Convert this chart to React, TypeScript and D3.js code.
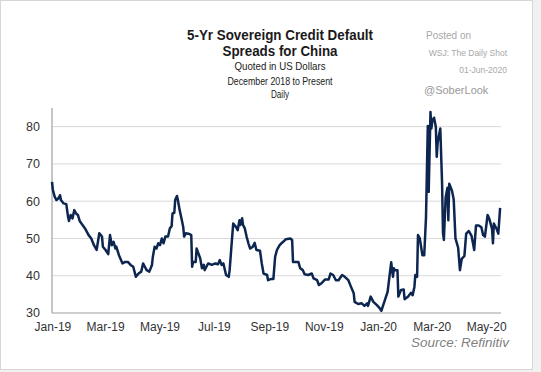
import React from "react";
import { scaleLinear, scaleTime, line, timeParse } from "d3";

const width = 541;
const height = 372;

const margin = { top: 108, right: 40, bottom: 59, left: 52 };
const innerWidth = width - margin.left - margin.right;
const innerHeight = height - margin.top - margin.bottom;

// daily-ish readings of the CDS spread (USD)
const dates = [
  "2018-12-31", "2019-01-01", "2019-01-02", "2019-01-03", "2019-01-05", "2019-01-07", "2019-01-09", "2019-01-10",
  "2019-01-13", "2019-01-16", "2019-01-18", "2019-01-19", "2019-01-21", "2019-01-23", "2019-01-25", "2019-01-27",
  "2019-01-29", "2019-01-31", "2019-02-02", "2019-02-06", "2019-02-10", "2019-02-13", "2019-02-16", "2019-02-19",
  "2019-02-22", "2019-02-25", "2019-02-26", "2019-03-01", "2019-03-04", "2019-03-06", "2019-03-08", "2019-03-10",
  "2019-03-12", "2019-03-13", "2019-03-16", "2019-03-20", "2019-03-23", "2019-03-26", "2019-03-29", "2019-04-01",
  "2019-04-04", "2019-04-07", "2019-04-10", "2019-04-12", "2019-04-14", "2019-04-16", "2019-04-19", "2019-04-22",
  "2019-04-23", "2019-04-25", "2019-04-27", "2019-04-29", "2019-05-01", "2019-05-03", "2019-05-05", "2019-05-07",
  "2019-05-10", "2019-05-12", "2019-05-14", "2019-05-15", "2019-05-17", "2019-05-18", "2019-05-20", "2019-05-21",
  "2019-05-23", "2019-05-25", "2019-05-27", "2019-05-28", "2019-05-30", "2019-06-03", "2019-06-05", "2019-06-06",
  "2019-06-07", "2019-06-10", "2019-06-11", "2019-06-13", "2019-06-15", "2019-06-17", "2019-06-19", "2019-06-20",
  "2019-06-22", "2019-06-24", "2019-06-28", "2019-07-02", "2019-07-05", "2019-07-07", "2019-07-09", "2019-07-11",
  "2019-07-14", "2019-07-17", "2019-07-18", "2019-07-20", "2019-07-22", "2019-07-25", "2019-07-27", "2019-07-29",
  "2019-07-30", "2019-08-01", "2019-08-02", "2019-08-04", "2019-08-06", "2019-08-08", "2019-08-10", "2019-08-13",
  "2019-08-15", "2019-08-17", "2019-08-21", "2019-08-23", "2019-08-25", "2019-08-29", "2019-08-30", "2019-09-02",
  "2019-09-05", "2019-09-07", "2019-09-09", "2019-09-12", "2019-09-14", "2019-09-16", "2019-09-19", "2019-09-24",
  "2019-09-26", "2019-09-27", "2019-10-03", "2019-10-05", "2019-10-08", "2019-10-10", "2019-10-14", "2019-10-18",
  "2019-10-20", "2019-10-24", "2019-10-26", "2019-10-29", "2019-11-02", "2019-11-06", "2019-11-08", "2019-11-11",
  "2019-11-14", "2019-11-17", "2019-11-21", "2019-11-24", "2019-11-28", "2019-12-01", "2019-12-04", "2019-12-05",
  "2019-12-09", "2019-12-13", "2019-12-16", "2019-12-19", "2019-12-20", "2019-12-23", "2019-12-26", "2019-12-30",
  "2020-01-02", "2020-01-04", "2020-01-08", "2020-01-11", "2020-01-13", "2020-01-15", "2020-01-17", "2020-01-18",
  "2020-01-19", "2020-01-22", "2020-01-23", "2020-01-26", "2020-01-29", "2020-01-30", "2020-02-03", "2020-02-06",
  "2020-02-08", "2020-02-10", "2020-02-11", "2020-02-13", "2020-02-14", "2020-02-16", "2020-02-19", "2020-02-21",
  "2020-02-23", "2020-02-25", "2020-02-26", "2020-02-28", "2020-02-29", "2020-03-01", "2020-03-03", "2020-03-05",
  "2020-03-06", "2020-03-07", "2020-03-10", "2020-03-12", "2020-03-13", "2020-03-14", "2020-03-16", "2020-03-18",
  "2020-03-19", "2020-03-20", "2020-03-23", "2020-03-25", "2020-03-27", "2020-03-30", "2020-04-01", "2020-04-03",
  "2020-04-06", "2020-04-08", "2020-04-11", "2020-04-14", "2020-04-17", "2020-04-19", "2020-04-22", "2020-04-25",
  "2020-04-27", "2020-04-29", "2020-05-02", "2020-05-04", "2020-05-07", "2020-05-08", "2020-05-09", "2020-05-12",
  "2020-05-14", "2020-05-16",
];

const spreads = [
  65.2, 63.0, 62.1, 61.2, 60.3, 60.7, 61.6, 60.3,
  59.4, 59.2, 55.8, 54.7, 56.3, 55.4, 57.6, 56.7,
  56.3, 54.7, 54.0, 52.7, 50.9, 50.0, 48.2, 46.9,
  51.4, 50.5, 47.8, 46.9, 45.8, 50.9, 48.2, 49.1,
  47.3, 47.8, 45.5, 43.3, 43.7, 43.7, 42.9, 42.4,
  39.7, 40.6, 41.1, 43.3, 42.4, 41.5, 41.1, 42.9,
  45.1, 47.8, 47.3, 48.7, 48.2, 50.0, 48.7, 50.5,
  50.5, 52.7, 53.3, 56.7, 56.9, 60.3, 61.4, 60.3,
  57.6, 55.4, 53.1, 50.5, 51.4, 51.2, 50.9, 42.4,
  43.7, 43.7, 47.3, 46.0, 44.7, 42.0, 42.9, 41.5,
  42.4, 43.3, 42.9, 43.3, 43.1, 44.2, 42.9, 43.3,
  40.2, 39.7, 41.5, 47.8, 54.0, 53.1, 52.2, 54.9,
  53.6, 55.4, 53.6, 52.7, 50.5, 48.7, 47.3, 47.8,
  48.8, 46.9, 46.7, 43.3, 40.6, 40.2, 38.8, 39.1,
  39.1, 45.1, 46.9, 48.2, 48.7, 49.1, 49.8, 50.0,
  49.6, 43.7, 43.7, 42.0, 41.5, 40.4, 40.2, 40.6,
  39.3, 38.8, 37.5, 38.0, 39.0, 39.0, 40.6, 40.2,
  38.8, 38.8, 40.2, 39.7, 38.8, 37.0, 35.3, 33.0,
  32.4, 32.6, 31.9, 32.6, 31.9, 34.4, 33.0, 32.1,
  31.3, 30.6, 33.5, 35.7, 39.7, 43.6, 39.7, 42.0,
  41.5, 41.5, 34.4, 36.2, 36.3, 33.7, 34.4, 35.4,
  34.8, 37.0, 40.2, 39.7, 50.9, 50.0, 45.5, 45.5,
  55.8, 80.2, 62.5, 83.9, 79.5, 81.5, 82.4, 79.9,
  71.9, 75.7, 79.5, 64.7, 51.6, 49.6, 61.0, 63.6,
  54.9, 64.7, 62.9, 60.5, 50.0, 47.5, 41.5, 44.5,
  45.3, 51.3, 52.0, 50.7, 46.9, 53.5, 53.5, 53.0,
  50.9, 50.5, 56.3, 55.2, 52.5, 48.7, 54.0, 52.6,
  51.3, 58.2,
];

const tickDates = [
  "2019-01-01", "2019-03-01", "2019-05-01", "2019-07-01", "2019-09-01",
  "2019-11-01", "2020-01-01", "2020-03-01", "2020-05-01",
];
const tickLabels = ["Jan-19", "Mar-19", "May-19", "Jul-19", "Sep-19", "Nov-19", "Jan-20", "Mar-20", "May-20"];
const yTicks = [30, 40, 50, 60, 70, 80];

const parse = timeParse("%Y-%m-%d");
const data = dates.map((d, i) => ({ date: parse(d) as Date, value: spreads[i] }));

const font = "'Liberation Sans', Arial, sans-serif";

export default function App() {
  const xScale = scaleTime()
    .domain([parse("2018-12-31") as Date, parse("2020-05-17") as Date])
    .range([0, innerWidth]);

  const yScale = scaleLinear().domain([30, 85]).range([innerHeight, 0]);

  const path = line<{ date: Date; value: number }>()
    .x((d) => xScale(d.date))
    .y((d) => yScale(d.value))(data);

  return (
    <svg
      width={width}
      height={height}
      style={{ position: "absolute", left: 0, top: 0, display: "block" }}
      fontFamily={font}
    >
      <rect width={width} height={height} fill="#f1f1f1" />
      <rect x={0.5} y={0.5} width={532} height={369} fill="#ffffff" stroke="#d6d6d6" />

      {/* titles */}
      <g textAnchor="middle" fill="#1a1a1a">
        <text x={280} y={39.5} fontSize={14} fontWeight="bold" textLength={186} lengthAdjust="spacingAndGlyphs">
          5-Yr Sovereign Credit Default
        </text>
        <text x={280} y={55.5} fontSize={14} fontWeight="bold" textLength={115} lengthAdjust="spacingAndGlyphs">
          Spreads for China
        </text>
        <text x={280} y={69.5} fontSize={10.8} textLength={91} lengthAdjust="spacingAndGlyphs">
          Quoted in US Dollars
        </text>
        <text x={280} y={84.5} fontSize={10.3} textLength={105} lengthAdjust="spacingAndGlyphs">
          December 2018 to Present
        </text>
        <text x={280} y={97.5} fontSize={10.3} textLength={18} lengthAdjust="spacingAndGlyphs">
          Daily
        </text>
      </g>

      {/* posted on */}
      <g fill="#a8a8a8">
        <text x={426} y={39} fontSize={10}>Posted on</text>
        <text x={507} y={56} fontSize={8.5} textAnchor="end">WSJ: The Daily Shot</text>
        <text x={507} y={72.5} fontSize={8.5} textAnchor="end">01-Jun-2020</text>
        <text x={424} y={94} fontSize={11} fill="#9a9a9a">@SoberLook</text>
      </g>

      <g transform={`translate(${margin.left}, ${margin.top})`}>
        {/* gridlines */}
        {yTicks.filter((t) => t > 30).map((t) => (
          <line key={t} x1={0} x2={innerWidth} y1={yScale(t)} y2={yScale(t)} stroke="#d9d9d9" strokeWidth={1} />
        ))}
        {/* axis lines */}
        <line x1={0} x2={innerWidth} y1={innerHeight} y2={innerHeight} stroke="#a0a0a0" strokeWidth={1.2} />
        <line x1={0} x2={0} y1={0} y2={innerHeight} stroke="#a0a0a0" strokeWidth={1.2} />

        {/* Y labels */}
        {yTicks.map((t) => (
          <text key={t} x={-12} y={yScale(t)} dy="0.35em" textAnchor="end" fontSize={12.5} fill="#333">
            {t}
          </text>
        ))}

        {/* X labels */}
        {tickDates.map((d, i) => (
          <text
            key={d}
            x={xScale(parse(d) as Date)}
            y={innerHeight + 14}
            dy="0.35em"
            textAnchor="middle"
            fontSize={12}
            fill="#333"
          >
            {tickLabels[i]}
          </text>
        ))}

        {/* line */}
        <path d={path || ""} fill="none" stroke="#0c2650" strokeWidth={2.5} strokeLinejoin="round" />
      </g>

      <text x={509} y={346.5} fontSize={12} fontStyle="italic" textAnchor="end" fill="#7f7f7f" textLength={98} lengthAdjust="spacingAndGlyphs">
        Source:  Refinitiv
      </text>
    </svg>
  );
}
